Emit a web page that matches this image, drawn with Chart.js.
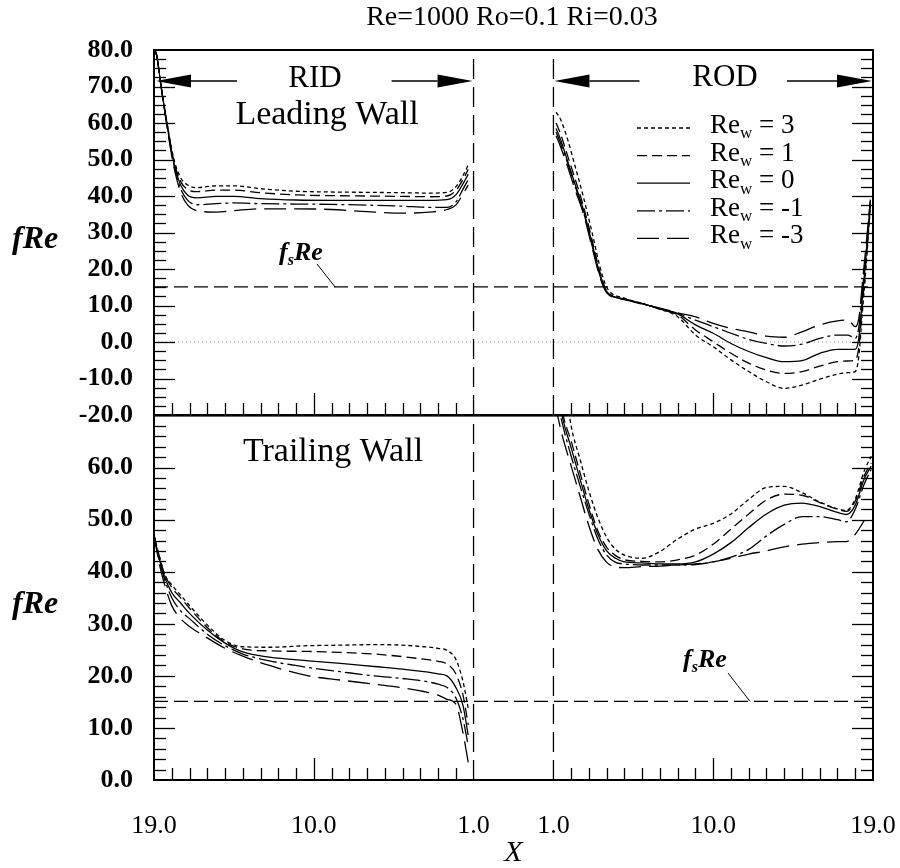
<!DOCTYPE html>
<html lang="en">
<head>
<meta charset="UTF-8">
<title>fRe along RID and ROD</title>
<script src="https://cdn.jsdelivr.net/npm/chart.js@4"></script>
<style>
    html, body {
        margin: 0;
        padding: 0;
        background: #fff;
        overflow: hidden;
    }

    #wrap {
        position: relative;
        width: 900px;
        height: 868px;
    }

    canvas {
        position: absolute;
        left: 0;
    }

    #top-chart {
        top: 0;
    }

    #bottom-chart {
        top: 400px;
    }
</style>
</head>
<body>
<div id="wrap">
    <canvas id="top-chart" width="900" height="440"></canvas>
    <canvas id="bottom-chart" width="900" height="468"></canvas>
</div>
<script>
    // ---- data ----
    const titleText = 'Re=1000 Ro=0.1 Ri=0.03';
    const rewValues = [3, 1, 0, -1, -3];
    const fsRe = 15.1;

    // x tick labels: RID runs 19 -> 1, ROD runs 1 -> 19
    const ridTickX = [19, 10, 1];
    const rodTickX = [1, 10, 19];
    const xTickLabels = ['19.0', '10.0', '1.0', '1.0', '10.0', '19.0'];

    // Leading wall, RID
    const ridLeadX    = [19, 18.85, 18.6, 18.3, 17.9, 17.5, 17.1, 16.6, 15.5, 14.5, 13, 11, 9, 7, 5, 3.5, 2.5, 2.0, 1.6, 1.3];
    const ridLeadRe3  = [80.5, 78.5, 70, 61.0, 50.5, 45.0, 43.0, 42.3, 42.8, 42.8, 42.0, 41.3, 41.1, 41.0, 40.9, 40.8, 41.0, 42.5, 45.5, 48.5];
    const ridLeadRe1  = [80.5, 78.5, 70, 61.0, 50.0, 44.0, 41.8, 41.2, 41.6, 41.6, 40.9, 40.3, 40.1, 40.0, 39.9, 39.8, 40.0, 41.5, 44.5, 47.3];
    const ridLeadRe0  = [80.5, 78.5, 70, 60.5, 49.5, 43.0, 40.2, 39.5, 39.9, 39.9, 39.3, 38.9, 38.8, 38.8, 38.8, 38.8, 39.0, 40.3, 43.3, 46.0];
    const ridLeadReM1 = [80.5, 78.5, 70, 60.5, 49.0, 42.0, 38.8, 37.6, 37.9, 38.1, 37.9, 37.8, 37.7, 37.5, 37.2, 36.9, 36.9, 38.3, 41.8, 44.5];
    const ridLeadReM3 = [80.5, 78.5, 70, 60.0, 48.5, 41.0, 37.5, 36.0, 35.6, 36.0, 36.5, 36.5, 36.3, 35.7, 35.3, 35.6, 36.3, 37.5, 40.5, 43.0];

    // Leading wall, ROD
    const rodLeadX    = [1.15, 1.4, 1.8, 2.2, 2.7, 3.2, 3.6, 4.0, 5, 6, 7, 8, 9, 10, 11, 12, 13, 14, 15, 16, 17, 17.6, 18.0, 18.2, 18.4, 18.6, 18.85];
    const rodLeadRe3  = [63.0, 61.0, 55.5, 48.5, 39.5, 29.5, 21.0, 15.0, 12.0, 10.6, 9.0, 6.9, 1.9, -1.3, -4.9, -8.1, -10.9, -12.7, -11.8, -10.2, -8.8, -8.4, -8.1, -4.0, 8.0, 20.0, 37.0];
    const rodLeadRe1  = [60.0, 57.0, 51.0, 45.0, 37.0, 27.5, 19.5, 14.0, 11.8, 10.5, 9.0, 7.4, 3.3, 0.1, -3.1, -5.8, -7.7, -8.6, -8.1, -6.6, -5.4, -5.2, -4.9, -1.5, 10.0, 21.5, 37.5];
    const rodLeadRe0  = [58.5, 55.5, 49.5, 43.5, 36.0, 26.5, 19.0, 13.8, 11.8, 10.5, 9.1, 7.7, 4.7, 2.4, -0.4, -2.6, -4.3, -5.4, -5.1, -3.1, -2.0, -2.0, -2.0, 1.0, 12.0, 23.0, 38.0];
    const rodLeadReM1 = [57.5, 54.5, 49.0, 43.0, 35.5, 26.0, 18.5, 13.7, 11.7, 10.5, 9.2, 7.85, 6.0, 4.2, 2.4, 0.7, -0.4, -1.1, -0.6, 1.0, 1.9, 1.9, 1.0, 4.0, 14.0, 24.5, 38.5];
    const rodLeadReM3 = [56.5, 53.5, 48.0, 42.0, 35.0, 25.5, 18.0, 13.5, 11.6, 10.4, 9.3, 8.0, 6.9, 5.1, 3.7, 2.8, 1.6, 1.3, 2.8, 4.7, 5.8, 6.0, 4.2, 6.5, 16.0, 26.0, 39.0];

    // Trailing wall, RID
    const ridTrailX    = [19, 18.7, 18.4, 18.0, 17.5, 17.0, 16.0, 15.0, 14.0, 12.5, 10.3, 8.5, 6.6, 5.0, 3.8, 3.0, 2.5, 2.0, 1.6, 1.3];
    const ridTrailRe3  = [47, 43.0, 39.5, 37.5, 35.5, 33.5, 29.8, 26.8, 25.6, 25.5, 25.8, 25.9, 26.0, 25.9, 25.6, 25.3, 24.9, 23.2, 19.0, 13.8];
    const ridTrailRe1  = [47, 43.0, 39.5, 37.0, 35.0, 33.0, 29.3, 26.5, 25.2, 24.8, 24.7, 24.5, 24.2, 23.7, 23.2, 22.8, 22.3, 20.4, 16.4, 10.6];
    const ridTrailRe0  = [47, 42.5, 39.0, 36.0, 34.0, 32.0, 28.8, 26.3, 24.6, 23.6, 22.9, 22.4, 21.8, 21.3, 20.8, 20.4, 20.0, 17.8, 14.4, 8.6];
    const ridTrailReM1 = [47, 42.0, 38.5, 35.0, 32.5, 31.0, 28.0, 25.8, 24.2, 22.9, 21.6, 20.8, 20.0, 19.5, 19.0, 18.4, 17.8, 15.8, 11.8, 6.6];
    const ridTrailReM3 = [47, 41.5, 37.5, 33.5, 31.0, 29.5, 27.3, 25.3, 23.8, 22.0, 20.0, 19.2, 18.4, 17.7, 17.0, 16.3, 15.5, 14.6, 9.1, 3.4];

    // Trailing wall, ROD
    const rodTrailX    = [1.1, 1.5, 2.0, 2.5, 3.0, 3.5, 4.0, 4.5, 5, 6, 7, 8, 9, 10, 11, 12, 13, 14, 15, 16, 17, 17.5, 18, 18.5, 18.9];
    const rodTrailRe3  = [88, 80, 68.0, 61.6, 55.5, 50.4, 46.6, 44.3, 43.2, 42.6, 43.9, 46.3, 48.2, 49.3, 51.1, 53.9, 56.2, 56.4, 55.2, 53.4, 52.1, 51.8, 54.0, 59.3, 62.2];
    const rodTrailRe1  = [82, 71, 65.1, 59.0, 53.0, 47.9, 44.7, 43.1, 42.3, 42.0, 41.9, 42.3, 43.2, 45.3, 48.2, 51.1, 53.8, 54.9, 54.7, 53.3, 52.0, 51.6, 53.6, 58.4, 60.9];
    const rodTrailRe0  = [78, 69.8, 63.8, 57.8, 52.0, 47.2, 44.0, 42.6, 41.9, 41.7, 41.5, 41.5, 41.9, 43.4, 45.6, 48.5, 51.1, 52.8, 53.2, 52.5, 51.4, 51.0, 52.8, 57.8, 60.3];
    const rodTrailReM1 = [75, 68.5, 62.2, 56.5, 51.1, 46.3, 43.2, 41.8, 41.5, 41.3, 41.3, 41.3, 41.4, 41.9, 42.8, 44.3, 46.9, 49.1, 50.6, 50.6, 50.0, 49.6, 52.0, 56.8, 59.7];
    const rodTrailReM3 = [72, 66.1, 60.3, 54.5, 48.8, 44.3, 41.8, 40.9, 40.8, 41.0, 41.1, 41.3, 41.5, 41.9, 42.6, 43.4, 44.0, 44.8, 45.3, 45.6, 45.8, 45.8, 47.2, 49.8, null];

    // line styles, in the order of rewValues
    const dashes = [[4, 3], [10, 5], [], [18, 4, 3, 4], [22, 8]];

    // ---- broken x axis: RID on the left, gap, ROD on the right ----
    const GAP = 4.5;
    const ridPos = X => 19 - X;
    const rodPos = X => 18 + GAP + (X - 1);
    const X_MAX = rodPos(19);
    const xTickPos = ridTickX.map(ridPos).concat(rodTickX.map(rodPos));

    const SERIF = '"Liberation Serif", "Times New Roman", serif';
    Chart.defaults.font.family = SERIF;
    Chart.defaults.color = '#000';

    const pts = (xs, ys, pos) => xs.map((X, i) => ({x: pos(X), y: ys[i]}));

    function curves(ridX, ridSets, rodX, rodSets) {
        const out = [];
        ridSets.forEach((ys, i) => out.push(curve(pts(ridX, ys, ridPos), i)));
        rodSets.forEach((ys, i) => out.push(curve(pts(rodX, ys, rodPos), i)));
        return out;
    }

    function curve(data, i) {
        return {
            data: data,
            borderColor: '#000',
            borderWidth: 1.3,
            borderDash: dashes[i],
            pointRadius: 0,
            cubicInterpolationMode: 'monotone',
            spanGaps: false
        };
    }

    function refLine(data, dash, color, width) {
        return {
            data: data,
            borderColor: color,
            borderWidth: width,
            borderDash: dash,
            pointRadius: 0,
            tension: 0
        };
    }

    function seg(ctx, x0, y0, x1, y1) {
        ctx.beginPath();
        ctx.moveTo(x0, y0);
        ctx.lineTo(x1, y1);
        ctx.stroke();
    }

    function arrow(ctx, tail, tip, y) {
        const dir = Math.sign(tip - tail);
        const head = 35;
        seg(ctx, tail, y, tip - dir * head, y);
        ctx.beginPath();
        ctx.moveTo(tip, y);
        ctx.lineTo(tip - dir * head, y - 6.5);
        ctx.lineTo(tip - dir * head, y + 6.5);
        ctx.closePath();
        ctx.fill();
    }

    function subText(ctx, x, y, base, sub, rest, size, style) {
        ctx.textAlign = 'left';
        ctx.textBaseline = 'alphabetic';
        ctx.font = `${style} ${size}px ${SERIF}`;
        ctx.fillText(base, x, y);
        x += ctx.measureText(base).width;
        ctx.font = `${style} ${Math.round(size * 0.62)}px ${SERIF}`;
        ctx.fillText(sub, x, y + size * 0.2);
        x += ctx.measureText(sub).width;
        ctx.font = `${style} ${size}px ${SERIF}`;
        ctx.fillText(rest, x, y);
    }

    // invisible grid, only used to push the tick labels away from the frame
    const hiddenGrid = len => ({
        display: true,
        drawOnChartArea: false,
        drawTicks: true,
        tickLength: len,
        color: 'rgba(0,0,0,0)'
    });

    // frame with inward ticks
    const framePlugin = {
        id: 'frame',
        afterDatasetsDraw(chart, args, opts) {
            const {ctx, chartArea: a} = chart;
            const xs = chart.scales.x, ys = chart.scales.y;
            ctx.save();
            ctx.strokeStyle = '#000';
            ctx.lineWidth = 1.3;
            const n = Math.round((ys.max - ys.min) / opts.yStep);
            for (let i = 1; i < n; i++) {
                const v = ys.min + i * opts.yStep;
                const py = Math.round(ys.getPixelForValue(v)) + 0.5;
                const len = Math.abs(v % 10) < 1e-6 ? 21 : 12;
                seg(ctx, a.left, py, a.left + len, py);
                seg(ctx, a.right, py, a.right - len, py);
            }
            for (let X = 2; X <= 18; X++) {
                const len = X === 10 ? 22 : 12;
                for (const p of [ridPos(X), rodPos(X)]) {
                    const px = Math.round(xs.getPixelForValue(p)) + 0.5;
                    seg(ctx, px, a.bottom, px, a.bottom - len);
                }
            }
            ctx.lineWidth = 2;
            ctx.strokeRect(a.left, a.top, a.right - a.left, a.bottom - a.top);
            ctx.restore();
        }
    };

    const topText = {
        id: 'topText',
        afterDraw(chart) {
            const {ctx} = chart;
            const xs = chart.scales.x, ys = chart.scales.y;
            ctx.save();
            ctx.fillStyle = '#000';
            ctx.strokeStyle = '#000';
            ctx.textAlign = 'center';
            ctx.textBaseline = 'middle';
            ctx.font = `28px ${SERIF}`;
            ctx.fillText(titleText, 512, 18);
            ctx.font = `31px ${SERIF}`;
            ctx.fillText('RID', 315, 79);
            ctx.fillText('ROD', 725, 78);
            ctx.font = `34px ${SERIF}`;
            ctx.fillText('Leading Wall', 327, 115);

            // section arrows
            ctx.lineWidth = 1.3;
            const ay = 81;
            const r0 = xs.getPixelForValue(ridPos(19)) + 2, r1 = xs.getPixelForValue(ridPos(1)) - 1;
            const o0 = xs.getPixelForValue(rodPos(1)) + 1, o1 = xs.getPixelForValue(rodPos(19)) - 1;
            arrow(ctx, r0 + 81, r0, ay);
            arrow(ctx, r1 - 81, r1, ay);
            arrow(ctx, o0 + 85, o0, ay);
            arrow(ctx, o1 - 85, o1, ay);

            // legend
            rewValues.forEach((v, i) => {
                const y = 128 + i * 27.6;
                ctx.setLineDash(dashes[i]);
                seg(ctx, 637, y, 690, y);
                ctx.setLineDash([]);
                subText(ctx, 710, y + 5, 'Re', 'w', ' = ' + v, 27, '');
            });

            // fsRe label
            subText(ctx, 279, 260, 'f', 's', 'Re', 26, 'italic bold');
            ctx.lineWidth = 1;
            seg(ctx, 317, 264, 335, ys.getPixelForValue(fsRe));

            ctx.font = `italic bold 32px ${SERIF}`;
            ctx.textAlign = 'left';
            ctx.textBaseline = 'alphabetic';
            ctx.fillText('fRe', 12, 248);
            ctx.restore();
        }
    };

    const bottomText = {
        id: 'bottomText',
        afterDraw(chart) {
            const {ctx} = chart;
            const ys = chart.scales.y;
            ctx.save();
            ctx.fillStyle = '#000';
            ctx.strokeStyle = '#000';
            ctx.textAlign = 'center';
            ctx.textBaseline = 'middle';
            ctx.font = `34px ${SERIF}`;
            ctx.fillText('Trailing Wall', 333, 52);

            subText(ctx, 683, 267, 'f', 's', 'Re', 26, 'italic bold');
            ctx.lineWidth = 1;
            seg(ctx, 728, 273, 750, ys.getPixelForValue(fsRe));

            ctx.font = `italic bold 32px ${SERIF}`;
            ctx.textAlign = 'left';
            ctx.textBaseline = 'alphabetic';
            ctx.fillText('fRe', 12, 213);
            ctx.restore();
        }
    };

    const yTicks = (hideTop) => ({
        stepSize: 10,
        padding: 0,
        font: {size: 26, weight: 'bold'},
        callback: (v) => (hideTop && v === hideTop) ? '' : Number(v).toFixed(1)
    });

    // **** TOP PANEL: leading wall ****
    new Chart(document.getElementById('top-chart'), {
        type: 'line',
        data: {
            datasets: [
                refLine([{x: 0, y: 0}, {x: X_MAX, y: 0}], [1, 3], '#999', 1),
                refLine([{x: 0, y: fsRe}, {x: X_MAX, y: fsRe}], [14, 6], '#000', 1.2),
                refLine([{x: ridPos(1), y: -20}, {x: ridPos(1), y: 80}], [20, 8], '#000', 1.3),
                refLine([{x: rodPos(1), y: -20}, {x: rodPos(1), y: 80}], [20, 8], '#000', 1.3),
                ...curves(ridLeadX, [ridLeadRe3, ridLeadRe1, ridLeadRe0, ridLeadReM1, ridLeadReM3],
                          rodLeadX, [rodLeadRe3, rodLeadRe1, rodLeadRe0, rodLeadReM1, rodLeadReM3])
            ]
        },
        options: {
            responsive: false,
            animation: false,
            devicePixelRatio: 1,
            layout: {padding: {top: 50, right: 27, bottom: 25, left: 0}},
            scales: {
                x: {type: 'linear', min: 0, max: X_MAX, display: false},
                y: {
                    min: -20,
                    max: 80,
                    ticks: yTicks(null),
                    grid: hiddenGrid(21),
                    border: {display: false},
                    afterFit: s => { s.width = 154; }
                }
            },
            plugins: {
                legend: {display: false},
                tooltip: {enabled: false},
                frame: {yStep: 2.5}
            }
        },
        plugins: [framePlugin, topText]
    });

    // **** BOTTOM PANEL: trailing wall ****
    new Chart(document.getElementById('bottom-chart'), {
        type: 'line',
        data: {
            datasets: [
                refLine([{x: 0, y: fsRe}, {x: X_MAX, y: fsRe}], [14, 6], '#000', 1.2),
                refLine([{x: ridPos(1), y: 0}, {x: ridPos(1), y: 70}], [20, 8], '#000', 1.3),
                refLine([{x: rodPos(1), y: 0}, {x: rodPos(1), y: 70}], [20, 8], '#000', 1.3),
                ...curves(ridTrailX, [ridTrailRe3, ridTrailRe1, ridTrailRe0, ridTrailReM1, ridTrailReM3],
                          rodTrailX, [rodTrailRe3, rodTrailRe1, rodTrailRe0, rodTrailReM1, rodTrailReM3])
            ]
        },
        options: {
            responsive: false,
            animation: false,
            devicePixelRatio: 1,
            layout: {padding: {top: 15, right: 27, bottom: 0, left: 0}},
            scales: {
                x: {
                    type: 'linear',
                    min: 0,
                    max: X_MAX,
                    afterBuildTicks: s => { s.ticks = xTickPos.map(v => ({value: v})); },
                    ticks: {
                        autoSkip: false,
                        maxRotation: 0,
                        padding: 0,
                        font: {size: 26},
                        callback: (v, i) => xTickLabels[i]
                    },
                    grid: hiddenGrid(31),
                    border: {display: false},
                    title: {
                        display: true,
                        text: 'X',
                        padding: 0,
                        font: {size: 30, style: 'italic', lineHeight: 1}
                    },
                    afterFit: s => { s.height = 88; }
                },
                y: {
                    min: 0,
                    max: 70,
                    ticks: yTicks(70),
                    grid: hiddenGrid(21),
                    border: {display: false},
                    afterFit: s => { s.width = 154; }
                }
            },
            plugins: {
                legend: {display: false},
                tooltip: {enabled: false},
                frame: {yStep: 2}
            }
        },
        plugins: [framePlugin, bottomText]
    });
</script>
</body>
</html>
